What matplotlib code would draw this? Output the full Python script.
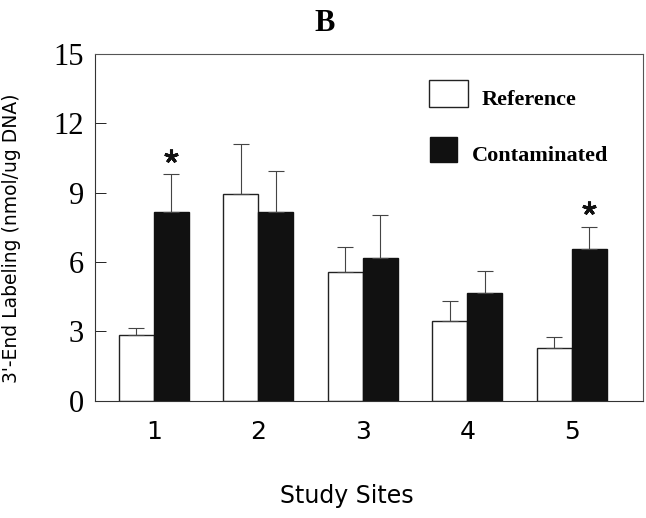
import numpy as np
import matplotlib
matplotlib.use("Agg")
import matplotlib.pyplot as plt
from matplotlib.patches import Rectangle

sites = ["1", "2", "3", "4", "5"]
reference = [2.83, 8.93, 5.58, 3.44, 2.28]
reference_err = [0.30, 2.20, 1.06, 0.89, 0.48]
contaminated = [8.18, 8.18, 6.18, 4.66, 6.57]
contaminated_err = [1.63, 1.76, 1.84, 0.95, 0.96]
significant = [True, False, False, False, True]
yticks = [0, 3, 6, 9, 12, 15]

fig = plt.figure(figsize=(6.46, 5.18), dpi=100)
ax = fig.add_axes([0.147, 0.2265, 0.848, 0.669])

x = np.arange(1, len(sites) + 1)
w = 0.335
err_kw = dict(ecolor="#444444", elinewidth=0.8, capsize=6, capthick=0.8)
ax.bar(x - w / 2, reference, w, color="white", edgecolor="#222222", linewidth=1.0,
       yerr=[np.zeros(len(sites)), reference_err], error_kw=err_kw)
ax.bar(x + w / 2, contaminated, w, color="#111111", edgecolor="#111111", linewidth=1.0,
       yerr=[np.zeros(len(sites)), contaminated_err], error_kw=err_kw)

# asterisks over the significant contaminated bars
sx = [xi + w / 2 for xi, s in zip(x, significant) if s]
sy = [v + e + 0.8 for v, e, s in zip(contaminated, contaminated_err, significant) if s]
ax.plot(sx, sy, linestyle="none", marker=(5, 2, 0), markersize=10,
        markeredgewidth=2.2, color="#111111")

ax.set_xlim(0.435, 5.68)
ax.set_ylim(0, 15)
ax.set_yticks(yticks)
ax.set_yticklabels([str(t) for t in yticks], family="Liberation Serif", fontsize=22)
ax.set_xticks(x)
ax.set_xticklabels(sites, family="DejaVu Sans", fontsize=18)
ax.tick_params(axis="y", direction="in", length=8, width=0.6, pad=8)
ax.tick_params(axis="x", length=0, pad=14)
for sp in ax.spines.values():
    sp.set_linewidth(0.8)
    sp.set_color("#555555")
ax.spines["left"].set_color("#333333")
ax.spines["bottom"].set_color("#333333")

ax.set_ylabel("3'-End Labeling (nmol/ug DNA)", family="DejaVu Sans", fontsize=13.5)
ax.yaxis.set_label_coords(-0.135, 0.47)
ax.set_xlabel("Study Sites", family="DejaVu Sans", fontsize=17)
ax.xaxis.set_label_coords(0.46, -0.24)
fig.text(0.503, 0.955, "B", family="Liberation Serif", fontweight="bold", fontsize=22,
         ha="center", va="center")

# legend drawn by hand to keep the original offsets
ax.add_patch(Rectangle((0.609, 0.847), 0.072, 0.078, transform=ax.transAxes,
                       facecolor="white", edgecolor="#222222", linewidth=1.0))
ax.add_patch(Rectangle((0.611, 0.689), 0.050, 0.072, transform=ax.transAxes,
                       facecolor="#111111", edgecolor="#111111", linewidth=1.0))
leg_font = dict(family="Liberation Serif", fontweight="bold", fontsize=16,
                transform=ax.transAxes, va="center", ha="left")
ax.text(0.706, 0.867, "Reference", **leg_font)
ax.text(0.688, 0.706, "Contaminated", **leg_font)

fig.savefig("out.png", dpi=100)
